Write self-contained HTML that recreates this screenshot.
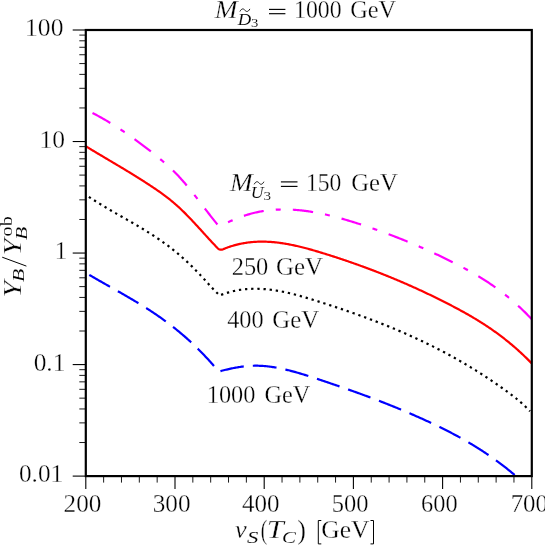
<!DOCTYPE html>
<html><head><meta charset="utf-8"><title>chart</title>
<style>html,body{margin:0;padding:0;background:#fff;}svg{display:block;}</style></head>
<body>
<svg width="545" height="545" viewBox="0 0 545 545">
<rect width="545" height="545" fill="#fff"/>
<g stroke="#000" stroke-width="0.9" fill="none">
<line x1="72.7" y1="30.00" x2="85.8" y2="30.00" stroke-width="1.1"/>
<line x1="79.3" y1="107.95" x2="85.8" y2="107.95"/>
<line x1="79.3" y1="88.31" x2="85.8" y2="88.31"/>
<line x1="79.3" y1="74.38" x2="85.8" y2="74.38"/>
<line x1="79.3" y1="63.57" x2="85.8" y2="63.57"/>
<line x1="79.3" y1="54.74" x2="85.8" y2="54.74"/>
<line x1="79.3" y1="47.28" x2="85.8" y2="47.28"/>
<line x1="79.3" y1="40.81" x2="85.8" y2="40.81"/>
<line x1="79.3" y1="35.10" x2="85.8" y2="35.10"/>
<line x1="72.7" y1="141.53" x2="85.8" y2="141.53" stroke-width="1.1"/>
<line x1="79.3" y1="219.48" x2="85.8" y2="219.48"/>
<line x1="79.3" y1="199.84" x2="85.8" y2="199.84"/>
<line x1="79.3" y1="185.91" x2="85.8" y2="185.91"/>
<line x1="79.3" y1="175.10" x2="85.8" y2="175.10"/>
<line x1="79.3" y1="166.27" x2="85.8" y2="166.27"/>
<line x1="79.3" y1="158.80" x2="85.8" y2="158.80"/>
<line x1="79.3" y1="152.33" x2="85.8" y2="152.33"/>
<line x1="79.3" y1="146.63" x2="85.8" y2="146.63"/>
<line x1="72.7" y1="253.05" x2="85.8" y2="253.05" stroke-width="1.1"/>
<line x1="79.3" y1="331.00" x2="85.8" y2="331.00"/>
<line x1="79.3" y1="311.36" x2="85.8" y2="311.36"/>
<line x1="79.3" y1="297.43" x2="85.8" y2="297.43"/>
<line x1="79.3" y1="286.62" x2="85.8" y2="286.62"/>
<line x1="79.3" y1="277.79" x2="85.8" y2="277.79"/>
<line x1="79.3" y1="270.33" x2="85.8" y2="270.33"/>
<line x1="79.3" y1="263.86" x2="85.8" y2="263.86"/>
<line x1="79.3" y1="258.15" x2="85.8" y2="258.15"/>
<line x1="72.7" y1="364.58" x2="85.8" y2="364.58" stroke-width="1.1"/>
<line x1="79.3" y1="442.53" x2="85.8" y2="442.53"/>
<line x1="79.3" y1="422.89" x2="85.8" y2="422.89"/>
<line x1="79.3" y1="408.96" x2="85.8" y2="408.96"/>
<line x1="79.3" y1="398.15" x2="85.8" y2="398.15"/>
<line x1="79.3" y1="389.32" x2="85.8" y2="389.32"/>
<line x1="79.3" y1="381.85" x2="85.8" y2="381.85"/>
<line x1="79.3" y1="375.38" x2="85.8" y2="375.38"/>
<line x1="79.3" y1="369.68" x2="85.8" y2="369.68"/>
<line x1="72.7" y1="476.10" x2="85.8" y2="476.10" stroke-width="1.1"/>
<line x1="85.80" y1="476.1" x2="85.80" y2="489" stroke-width="1.1"/>
<line x1="103.64" y1="476.1" x2="103.64" y2="482.6"/>
<line x1="121.48" y1="476.1" x2="121.48" y2="482.6"/>
<line x1="139.32" y1="476.1" x2="139.32" y2="482.6"/>
<line x1="157.16" y1="476.1" x2="157.16" y2="482.6"/>
<line x1="175.00" y1="476.1" x2="175.00" y2="489" stroke-width="1.1"/>
<line x1="192.84" y1="476.1" x2="192.84" y2="482.6"/>
<line x1="210.68" y1="476.1" x2="210.68" y2="482.6"/>
<line x1="228.52" y1="476.1" x2="228.52" y2="482.6"/>
<line x1="246.36" y1="476.1" x2="246.36" y2="482.6"/>
<line x1="264.20" y1="476.1" x2="264.20" y2="489" stroke-width="1.1"/>
<line x1="282.04" y1="476.1" x2="282.04" y2="482.6"/>
<line x1="299.88" y1="476.1" x2="299.88" y2="482.6"/>
<line x1="317.72" y1="476.1" x2="317.72" y2="482.6"/>
<line x1="335.56" y1="476.1" x2="335.56" y2="482.6"/>
<line x1="353.40" y1="476.1" x2="353.40" y2="489" stroke-width="1.1"/>
<line x1="371.24" y1="476.1" x2="371.24" y2="482.6"/>
<line x1="389.08" y1="476.1" x2="389.08" y2="482.6"/>
<line x1="406.92" y1="476.1" x2="406.92" y2="482.6"/>
<line x1="424.76" y1="476.1" x2="424.76" y2="482.6"/>
<line x1="442.60" y1="476.1" x2="442.60" y2="489" stroke-width="1.1"/>
<line x1="460.44" y1="476.1" x2="460.44" y2="482.6"/>
<line x1="478.28" y1="476.1" x2="478.28" y2="482.6"/>
<line x1="496.12" y1="476.1" x2="496.12" y2="482.6"/>
<line x1="513.96" y1="476.1" x2="513.96" y2="482.6"/>
<line x1="531.80" y1="476.1" x2="531.80" y2="489" stroke-width="1.1"/>
</g>
<clipPath id="c"><rect x="85.8" y="30.0" width="445.99999999999994" height="446.1"/></clipPath>
<g fill="none" stroke-width="2.2" clip-path="url(#c)" stroke-linejoin="round">
<path d="M92.50,113.00 L93.50,113.51 L94.50,114.02 L95.50,114.54 L96.50,115.07 L97.50,115.60 L98.50,116.14 L99.50,116.69 L100.50,117.24 L101.50,117.80 L102.50,118.36 L103.50,118.93 L104.50,119.51 L105.50,120.09 L106.50,120.67 L107.50,121.27 L108.50,121.86 L109.50,122.47 L110.50,123.08 L111.50,123.69 L112.50,124.31 L113.50,124.93 L114.50,125.56 L115.50,126.20 L116.50,126.84 L117.50,127.48 L118.50,128.13 L119.50,128.79 L120.50,129.45 L121.50,130.11 L122.50,130.78 L123.50,131.46 L124.50,132.14 L125.50,132.82 L126.50,133.51 L127.50,134.20 L128.50,134.90 L129.50,135.60 L130.50,136.31 L131.50,137.02 L132.50,137.73 L133.50,138.45 L134.50,139.17 L135.50,139.90 L136.50,140.63 L137.50,141.36 L138.50,142.10 L139.50,142.84 L140.50,143.59 L141.50,144.34 L142.50,145.09 L143.50,145.85 L144.50,146.61 L145.50,147.37 L146.50,148.14 L147.50,148.91 L148.50,149.68 L149.50,150.46 L150.50,151.24 L151.50,152.02 L152.50,152.81 L153.50,153.60 L154.50,154.39 L155.50,155.19 L156.50,156.00 L157.50,156.81 L158.50,157.62 L159.50,158.45 L160.50,159.28 L161.50,160.12 L162.50,160.97 L163.50,161.82 L164.50,162.69 L165.50,163.57 L166.50,164.45 L167.50,165.35 L168.50,166.26 L169.50,167.18 L170.50,168.12 L171.50,169.07 L172.50,170.03 L173.50,171.00 L174.50,171.99 L175.50,173.00 L176.50,174.02 L177.50,175.06 L178.50,176.11 L179.50,177.19 L180.50,178.28 L181.50,179.39 L182.50,180.51 L183.50,181.65 L184.50,182.81 L185.50,183.98 L186.50,185.17 L187.50,186.37 L188.50,187.58 L189.50,188.80 L190.50,190.04 L191.50,191.28 L192.50,192.53 L193.50,193.80 L194.50,195.07 L195.50,196.34 L196.50,197.63 L197.50,198.92 L198.50,200.21 L199.50,201.51 L200.50,202.81 L201.50,204.11 L202.50,205.41 L203.50,206.72 L204.50,208.02 L205.50,209.33 L206.50,210.63 L207.50,211.93 L208.50,213.23 L209.50,214.53 L210.50,215.82 L211.50,217.10 L212.50,218.38 L213.50,219.65 L214.50,220.91 L215.50,222.17 L216.50,223.42 L217.50,224.65 L218.50,225.88 L218.60,226.00 L219.60,225.61 L220.60,225.21 L221.60,224.81 L222.60,224.40 L223.60,223.99 L224.60,223.57 L225.60,223.16 L226.60,222.74 L227.60,222.31 L228.60,221.89 L229.60,221.47 L230.60,221.05 L231.60,220.63 L232.60,220.22 L233.60,219.80 L234.60,219.39 L235.60,218.99 L236.60,218.58 L237.60,218.19 L238.60,217.80 L239.60,217.41 L240.60,217.04 L241.60,216.67 L242.60,216.31 L243.60,215.96 L244.60,215.62 L245.60,215.29 L246.60,214.97 L247.60,214.66 L248.60,214.36 L249.60,214.07 L250.60,213.79 L251.60,213.52 L252.60,213.26 L253.60,213.00 L254.60,212.76 L255.60,212.53 L256.60,212.31 L257.60,212.09 L258.60,211.89 L259.60,211.69 L260.60,211.51 L261.60,211.33 L262.60,211.16 L263.60,211.00 L264.60,210.85 L265.60,210.70 L266.60,210.57 L267.60,210.44 L268.60,210.32 L269.60,210.21 L270.60,210.11 L271.60,210.02 L272.60,209.93 L273.60,209.85 L274.60,209.78 L275.60,209.72 L276.60,209.66 L277.60,209.61 L278.60,209.57 L279.60,209.53 L280.60,209.51 L281.60,209.49 L282.60,209.47 L283.60,209.47 L284.60,209.47 L285.60,209.47 L286.60,209.49 L287.60,209.51 L288.60,209.53 L289.60,209.57 L290.60,209.61 L291.60,209.65 L292.60,209.70 L293.60,209.76 L294.60,209.83 L295.60,209.90 L296.60,209.98 L297.60,210.06 L298.60,210.15 L299.60,210.24 L300.60,210.34 L301.60,210.45 L302.60,210.56 L303.60,210.68 L304.60,210.80 L305.60,210.93 L306.60,211.06 L307.60,211.20 L308.60,211.35 L309.60,211.49 L310.60,211.65 L311.60,211.81 L312.60,211.97 L313.60,212.14 L314.60,212.32 L315.60,212.49 L316.60,212.68 L317.60,212.87 L318.60,213.06 L319.60,213.26 L320.60,213.46 L321.60,213.66 L322.60,213.88 L323.60,214.09 L324.60,214.31 L325.60,214.53 L326.60,214.76 L327.60,214.99 L328.60,215.22 L329.60,215.46 L330.60,215.71 L331.60,215.95 L332.60,216.20 L333.60,216.45 L334.60,216.71 L335.60,216.97 L336.60,217.24 L337.60,217.50 L338.60,217.77 L339.60,218.05 L340.60,218.32 L341.60,218.60 L342.60,218.88 L343.60,219.17 L344.60,219.46 L345.60,219.75 L346.60,220.04 L347.60,220.34 L348.60,220.64 L349.60,220.94 L350.60,221.24 L351.60,221.55 L352.60,221.86 L353.60,222.17 L354.60,222.48 L355.60,222.80 L356.60,223.11 L357.60,223.43 L358.60,223.75 L359.60,224.08 L360.60,224.40 L361.60,224.73 L362.60,225.06 L363.60,225.39 L364.60,225.72 L365.60,226.05 L366.60,226.38 L367.60,226.72 L368.60,227.06 L369.60,227.40 L370.60,227.74 L371.60,228.08 L372.60,228.43 L373.60,228.78 L374.60,229.13 L375.60,229.48 L376.60,229.83 L377.60,230.18 L378.60,230.54 L379.60,230.89 L380.60,231.25 L381.60,231.61 L382.60,231.98 L383.60,232.34 L384.60,232.71 L385.60,233.08 L386.60,233.45 L387.60,233.82 L388.60,234.19 L389.60,234.57 L390.60,234.94 L391.60,235.32 L392.60,235.70 L393.60,236.09 L394.60,236.47 L395.60,236.86 L396.60,237.25 L397.60,237.64 L398.60,238.03 L399.60,238.42 L400.60,238.82 L401.60,239.22 L402.60,239.62 L403.60,240.02 L404.60,240.42 L405.60,240.83 L406.60,241.24 L407.60,241.65 L408.60,242.06 L409.60,242.47 L410.60,242.88 L411.60,243.30 L412.60,243.72 L413.60,244.14 L414.60,244.57 L415.60,244.99 L416.60,245.42 L417.60,245.85 L418.60,246.28 L419.60,246.71 L420.60,247.15 L421.60,247.58 L422.60,248.02 L423.60,248.46 L424.60,248.91 L425.60,249.35 L426.60,249.80 L427.60,250.25 L428.60,250.70 L429.60,251.15 L430.60,251.61 L431.60,252.06 L432.60,252.52 L433.60,252.98 L434.60,253.45 L435.60,253.91 L436.60,254.38 L437.60,254.85 L438.60,255.32 L439.60,255.80 L440.60,256.27 L441.60,256.75 L442.60,257.23 L443.60,257.72 L444.60,258.20 L445.60,258.69 L446.60,259.18 L447.60,259.67 L448.60,260.16 L449.60,260.66 L450.60,261.15 L451.60,261.65 L452.60,262.16 L453.60,262.66 L454.60,263.17 L455.60,263.68 L456.60,264.19 L457.60,264.70 L458.60,265.22 L459.60,265.74 L460.60,266.26 L461.60,266.79 L462.60,267.32 L463.60,267.85 L464.60,268.39 L465.60,268.93 L466.60,269.48 L467.60,270.03 L468.60,270.58 L469.60,271.14 L470.60,271.70 L471.60,272.27 L472.60,272.84 L473.60,273.41 L474.60,273.99 L475.60,274.58 L476.60,275.17 L477.60,275.76 L478.60,276.36 L479.60,276.97 L480.60,277.58 L481.60,278.20 L482.60,278.82 L483.60,279.45 L484.60,280.09 L485.60,280.73 L486.60,281.38 L487.60,282.03 L488.60,282.69 L489.60,283.36 L490.60,284.04 L491.60,284.72 L492.60,285.41 L493.60,286.10 L494.60,286.81 L495.60,287.52 L496.60,288.23 L497.60,288.96 L498.60,289.69 L499.60,290.44 L500.60,291.18 L501.60,291.94 L502.60,292.71 L503.60,293.48 L504.60,294.27 L505.60,295.06 L506.60,295.86 L507.60,296.67 L508.60,297.49 L509.60,298.31 L510.60,299.15 L511.60,300.00 L512.60,300.85 L513.60,301.72 L514.60,302.59 L515.60,303.48 L516.60,304.37 L517.60,305.28 L518.60,306.19 L519.60,307.12 L520.60,308.05 L521.60,309.00 L522.60,309.96 L523.60,310.93 L524.60,311.91 L525.60,312.90 L526.60,313.90 L527.60,314.91 L528.60,315.94 L529.60,316.97 L530.60,318.02 L531.60,319.08 L531.80,319.29" stroke="#ff00ff" stroke-dasharray="20.4 12.1 5 12.1"/>
<path d="M85.70,146.20 L86.70,146.81 L87.70,147.42 L88.70,148.03 L89.70,148.63 L90.70,149.24 L91.70,149.84 L92.70,150.45 L93.70,151.05 L94.70,151.65 L95.70,152.25 L96.70,152.84 L97.70,153.44 L98.70,154.04 L99.70,154.63 L100.70,155.23 L101.70,155.82 L102.70,156.42 L103.70,157.01 L104.70,157.60 L105.70,158.20 L106.70,158.79 L107.70,159.38 L108.70,159.97 L109.70,160.57 L110.70,161.16 L111.70,161.75 L112.70,162.35 L113.70,162.94 L114.70,163.53 L115.70,164.13 L116.70,164.72 L117.70,165.32 L118.70,165.91 L119.70,166.51 L120.70,167.11 L121.70,167.71 L122.70,168.31 L123.70,168.91 L124.70,169.51 L125.70,170.11 L126.70,170.72 L127.70,171.32 L128.70,171.93 L129.70,172.54 L130.70,173.15 L131.70,173.76 L132.70,174.38 L133.70,174.99 L134.70,175.61 L135.70,176.23 L136.70,176.85 L137.70,177.48 L138.70,178.10 L139.70,178.73 L140.70,179.36 L141.70,180.00 L142.70,180.63 L143.70,181.27 L144.70,181.91 L145.70,182.56 L146.70,183.20 L147.70,183.85 L148.70,184.51 L149.70,185.16 L150.70,185.82 L151.70,186.48 L152.70,187.15 L153.70,187.82 L154.70,188.50 L155.70,189.18 L156.70,189.86 L157.70,190.55 L158.70,191.25 L159.70,191.96 L160.70,192.67 L161.70,193.39 L162.70,194.11 L163.70,194.85 L164.70,195.59 L165.70,196.35 L166.70,197.11 L167.70,197.88 L168.70,198.66 L169.70,199.46 L170.70,200.26 L171.70,201.08 L172.70,201.90 L173.70,202.74 L174.70,203.60 L175.70,204.46 L176.70,205.34 L177.70,206.23 L178.70,207.14 L179.70,208.06 L180.70,209.00 L181.70,209.95 L182.70,210.92 L183.70,211.89 L184.70,212.88 L185.70,213.88 L186.70,214.90 L187.70,215.92 L188.70,216.95 L189.70,217.99 L190.70,219.04 L191.70,220.10 L192.70,221.16 L193.70,222.24 L194.70,223.31 L195.70,224.39 L196.70,225.48 L197.70,226.57 L198.70,227.67 L199.70,228.76 L200.70,229.86 L201.70,230.97 L202.70,232.07 L203.70,233.17 L204.70,234.27 L205.70,235.37 L206.70,236.47 L207.70,237.57 L208.70,238.66 L209.70,239.75 L210.70,240.83 L211.70,241.91 L212.70,242.99 L213.70,244.06 L214.70,245.12 L215.70,246.18 L216.70,247.22 L217.55,248.11 L218.00,248.53 L218.47,248.89 L218.94,249.18 L219.43,249.41 L219.93,249.58 L220.45,249.67 L220.97,249.71 L221.51,249.68 L222.06,249.58 L222.62,249.42 L223.20,249.20 L224.00,248.87 L225.00,248.46 L226.00,248.08 L227.00,247.70 L228.00,247.34 L229.00,246.99 L230.00,246.65 L231.00,246.32 L232.00,246.01 L233.00,245.70 L234.00,245.41 L235.00,245.14 L236.00,244.87 L237.00,244.61 L238.00,244.37 L239.00,244.14 L240.00,243.92 L241.00,243.70 L242.00,243.51 L243.00,243.32 L244.00,243.14 L245.00,242.97 L246.00,242.81 L247.00,242.67 L248.00,242.53 L249.00,242.41 L250.00,242.29 L251.00,242.18 L252.00,242.09 L253.00,242.00 L254.00,241.92 L255.00,241.85 L256.00,241.80 L257.00,241.75 L258.00,241.71 L259.00,241.68 L260.00,241.65 L261.00,241.64 L262.00,241.64 L263.00,241.64 L264.00,241.65 L265.00,241.67 L266.00,241.70 L267.00,241.74 L268.00,241.78 L269.00,241.84 L270.00,241.90 L271.00,241.97 L272.00,242.04 L273.00,242.12 L274.00,242.21 L275.00,242.31 L276.00,242.42 L277.00,242.53 L278.00,242.65 L279.00,242.77 L280.00,242.90 L281.00,243.04 L282.00,243.19 L283.00,243.34 L284.00,243.49 L285.00,243.66 L286.00,243.83 L287.00,244.00 L288.00,244.18 L289.00,244.37 L290.00,244.56 L291.00,244.75 L292.00,244.96 L293.00,245.16 L294.00,245.38 L295.00,245.59 L296.00,245.81 L297.00,246.04 L298.00,246.27 L299.00,246.51 L300.00,246.75 L301.00,246.99 L302.00,247.24 L303.00,247.49 L304.00,247.75 L305.00,248.01 L306.00,248.27 L307.00,248.54 L308.00,248.81 L309.00,249.08 L310.00,249.36 L311.00,249.64 L312.00,249.92 L313.00,250.20 L314.00,250.49 L315.00,250.78 L316.00,251.08 L317.00,251.37 L318.00,251.67 L319.00,251.97 L320.00,252.27 L321.00,252.58 L322.00,252.88 L323.00,253.19 L324.00,253.50 L325.00,253.81 L326.00,254.12 L327.00,254.43 L328.00,254.75 L329.00,255.06 L330.00,255.38 L331.00,255.70 L332.00,256.02 L333.00,256.34 L334.00,256.66 L335.00,256.99 L336.00,257.31 L337.00,257.64 L338.00,257.97 L339.00,258.30 L340.00,258.63 L341.00,258.96 L342.00,259.30 L343.00,259.63 L344.00,259.97 L345.00,260.31 L346.00,260.65 L347.00,260.99 L348.00,261.33 L349.00,261.67 L350.00,262.02 L351.00,262.37 L352.00,262.72 L353.00,263.07 L354.00,263.42 L355.00,263.77 L356.00,264.12 L357.00,264.48 L358.00,264.84 L359.00,265.20 L360.00,265.56 L361.00,265.92 L362.00,266.28 L363.00,266.65 L364.00,267.01 L365.00,267.38 L366.00,267.75 L367.00,268.12 L368.00,268.50 L369.00,268.87 L370.00,269.25 L371.00,269.62 L372.00,270.00 L373.00,270.38 L374.00,270.77 L375.00,271.15 L376.00,271.54 L377.00,271.92 L378.00,272.31 L379.00,272.70 L380.00,273.09 L381.00,273.49 L382.00,273.88 L383.00,274.28 L384.00,274.68 L385.00,275.08 L386.00,275.48 L387.00,275.88 L388.00,276.29 L389.00,276.69 L390.00,277.10 L391.00,277.51 L392.00,277.92 L393.00,278.34 L394.00,278.75 L395.00,279.17 L396.00,279.59 L397.00,280.01 L398.00,280.43 L399.00,280.85 L400.00,281.28 L401.00,281.70 L402.00,282.13 L403.00,282.56 L404.00,283.00 L405.00,283.43 L406.00,283.86 L407.00,284.30 L408.00,284.74 L409.00,285.18 L410.00,285.62 L411.00,286.07 L412.00,286.52 L413.00,286.96 L414.00,287.41 L415.00,287.86 L416.00,288.32 L417.00,288.77 L418.00,289.23 L419.00,289.69 L420.00,290.15 L421.00,290.61 L422.00,291.08 L423.00,291.54 L424.00,292.01 L425.00,292.48 L426.00,292.95 L427.00,293.42 L428.00,293.90 L429.00,294.38 L430.00,294.85 L431.00,295.34 L432.00,295.82 L433.00,296.30 L434.00,296.79 L435.00,297.28 L436.00,297.77 L437.00,298.26 L438.00,298.75 L439.00,299.25 L440.00,299.75 L441.00,300.25 L442.00,300.75 L443.00,301.25 L444.00,301.76 L445.00,302.27 L446.00,302.78 L447.00,303.29 L448.00,303.80 L449.00,304.32 L450.00,304.83 L451.00,305.35 L452.00,305.87 L453.00,306.40 L454.00,306.92 L455.00,307.45 L456.00,307.98 L457.00,308.51 L458.00,309.05 L459.00,309.59 L460.00,310.13 L461.00,310.68 L462.00,311.22 L463.00,311.77 L464.00,312.33 L465.00,312.89 L466.00,313.45 L467.00,314.01 L468.00,314.58 L469.00,315.16 L470.00,315.73 L471.00,316.31 L472.00,316.90 L473.00,317.49 L474.00,318.08 L475.00,318.68 L476.00,319.28 L477.00,319.89 L478.00,320.50 L479.00,321.12 L480.00,321.74 L481.00,322.37 L482.00,323.00 L483.00,323.64 L484.00,324.28 L485.00,324.93 L486.00,325.59 L487.00,326.25 L488.00,326.92 L489.00,327.59 L490.00,328.27 L491.00,328.95 L492.00,329.64 L493.00,330.34 L494.00,331.05 L495.00,331.76 L496.00,332.47 L497.00,333.20 L498.00,333.93 L499.00,334.67 L500.00,335.41 L501.00,336.17 L502.00,336.93 L503.00,337.69 L504.00,338.47 L505.00,339.25 L506.00,340.04 L507.00,340.84 L508.00,341.65 L509.00,342.46 L510.00,343.29 L511.00,344.12 L512.00,344.96 L513.00,345.81 L514.00,346.66 L515.00,347.53 L516.00,348.40 L517.00,349.29 L518.00,350.18 L519.00,351.08 L520.00,351.99 L521.00,352.91 L522.00,353.84 L523.00,354.78 L524.00,355.73 L525.00,356.69 L526.00,357.66 L527.00,358.64 L528.00,359.63 L529.00,360.63 L530.00,361.64 L531.00,362.66 L531.80,363.48" stroke="#ff0000"/>
<path d="M88.90,196.89 L89.90,197.56 L90.90,198.22 L91.90,198.87 L92.90,199.52 L93.90,200.16 L94.90,200.79 L95.90,201.43 L96.90,202.05 L97.90,202.68 L98.90,203.30 L99.90,203.91 L100.90,204.52 L101.90,205.13 L102.90,205.73 L103.90,206.33 L104.90,206.93 L105.90,207.53 L106.90,208.12 L107.90,208.71 L108.90,209.29 L109.90,209.88 L110.90,210.46 L111.90,211.04 L112.90,211.62 L113.90,212.19 L114.90,212.77 L115.90,213.34 L116.90,213.91 L117.90,214.48 L118.90,215.05 L119.90,215.62 L120.90,216.19 L121.90,216.76 L122.90,217.33 L123.90,217.90 L124.90,218.47 L125.90,219.04 L126.90,219.61 L127.90,220.19 L128.90,220.76 L129.90,221.33 L130.90,221.91 L131.90,222.48 L132.90,223.06 L133.90,223.64 L134.90,224.23 L135.90,224.81 L136.90,225.40 L137.90,225.99 L138.90,226.58 L139.90,227.17 L140.90,227.77 L141.90,228.37 L142.90,228.98 L143.90,229.59 L144.90,230.20 L145.90,230.81 L146.90,231.43 L147.90,232.06 L148.90,232.69 L149.90,233.32 L150.90,233.96 L151.90,234.60 L152.90,235.25 L153.90,235.91 L154.90,236.57 L155.90,237.23 L156.90,237.90 L157.90,238.58 L158.90,239.26 L159.90,239.95 L160.90,240.65 L161.90,241.35 L162.90,242.06 L163.90,242.78 L164.90,243.50 L165.90,244.23 L166.90,244.97 L167.90,245.72 L168.90,246.48 L169.90,247.24 L170.90,248.01 L171.90,248.79 L172.90,249.58 L173.90,250.38 L174.90,251.18 L175.90,252.00 L176.90,252.82 L177.90,253.66 L178.90,254.50 L179.90,255.36 L180.90,256.22 L181.90,257.09 L182.90,257.98 L183.90,258.87 L184.90,259.78 L185.90,260.70 L186.90,261.62 L187.90,262.56 L188.90,263.51 L189.90,264.46 L190.90,265.43 L191.90,266.41 L192.90,267.40 L193.90,268.39 L194.90,269.40 L195.90,270.42 L196.90,271.44 L197.90,272.48 L198.90,273.52 L199.90,274.58 L200.90,275.64 L201.90,276.71 L202.90,277.79 L203.90,278.88 L204.90,279.98 L205.90,281.09 L206.90,282.20 L207.90,283.31 L208.90,284.42 L209.90,285.53 L210.90,286.62 L211.90,287.70 L212.90,288.77 L213.90,289.81 L214.90,290.84 L215.90,291.83 L216.90,292.80 L217.90,293.73 L218.90,294.63 L219.80,295.41 L220.80,295.02 L221.80,294.64 L222.80,294.27 L223.80,293.91 L224.80,293.56 L225.80,293.23 L226.80,292.91 L227.80,292.61 L228.80,292.32 L229.80,292.04 L230.80,291.77 L231.80,291.51 L232.80,291.27 L233.80,291.04 L234.80,290.82 L235.80,290.61 L236.80,290.41 L237.80,290.23 L238.80,290.06 L239.80,289.89 L240.80,289.74 L241.80,289.60 L242.80,289.47 L243.80,289.36 L244.80,289.25 L245.80,289.15 L246.80,289.06 L247.80,288.99 L248.80,288.92 L249.80,288.86 L250.80,288.82 L251.80,288.78 L252.80,288.75 L253.80,288.74 L254.80,288.73 L255.80,288.73 L256.80,288.74 L257.80,288.76 L258.80,288.78 L259.80,288.82 L260.80,288.86 L261.80,288.92 L262.80,288.98 L263.80,289.05 L264.80,289.12 L265.80,289.21 L266.80,289.30 L267.80,289.40 L268.80,289.51 L269.80,289.63 L270.80,289.75 L271.80,289.88 L272.80,290.02 L273.80,290.16 L274.80,290.31 L275.80,290.47 L276.80,290.63 L277.80,290.80 L278.80,290.98 L279.80,291.16 L280.80,291.35 L281.80,291.54 L282.80,291.74 L283.80,291.94 L284.80,292.15 L285.80,292.37 L286.80,292.59 L287.80,292.82 L288.80,293.05 L289.80,293.28 L290.80,293.52 L291.80,293.77 L292.80,294.02 L293.80,294.27 L294.80,294.53 L295.80,294.79 L296.80,295.06 L297.80,295.33 L298.80,295.60 L299.80,295.87 L300.80,296.15 L301.80,296.44 L302.80,296.72 L303.80,297.01 L304.80,297.30 L305.80,297.60 L306.80,297.90 L307.80,298.20 L308.80,298.50 L309.80,298.80 L310.80,299.11 L311.80,299.41 L312.80,299.72 L313.80,300.04 L314.80,300.35 L315.80,300.66 L316.80,300.98 L317.80,301.30 L318.80,301.61 L319.80,301.93 L320.80,302.25 L321.80,302.57 L322.80,302.89 L323.80,303.21 L324.80,303.54 L325.80,303.86 L326.80,304.19 L327.80,304.51 L328.80,304.84 L329.80,305.16 L330.80,305.49 L331.80,305.82 L332.80,306.15 L333.80,306.48 L334.80,306.81 L335.80,307.14 L336.80,307.48 L337.80,307.81 L338.80,308.15 L339.80,308.48 L340.80,308.82 L341.80,309.16 L342.80,309.50 L343.80,309.84 L344.80,310.18 L345.80,310.52 L346.80,310.87 L347.80,311.21 L348.80,311.56 L349.80,311.90 L350.80,312.25 L351.80,312.60 L352.80,312.95 L353.80,313.31 L354.80,313.66 L355.80,314.02 L356.80,314.37 L357.80,314.73 L358.80,315.09 L359.80,315.45 L360.80,315.81 L361.80,316.17 L362.80,316.54 L363.80,316.90 L364.80,317.27 L365.80,317.64 L366.80,318.01 L367.80,318.38 L368.80,318.75 L369.80,319.13 L370.80,319.50 L371.80,319.88 L372.80,320.26 L373.80,320.64 L374.80,321.02 L375.80,321.40 L376.80,321.79 L377.80,322.18 L378.80,322.56 L379.80,322.95 L380.80,323.35 L381.80,323.74 L382.80,324.13 L383.80,324.53 L384.80,324.93 L385.80,325.33 L386.80,325.73 L387.80,326.14 L388.80,326.54 L389.80,326.95 L390.80,327.36 L391.80,327.77 L392.80,328.18 L393.80,328.60 L394.80,329.01 L395.80,329.43 L396.80,329.85 L397.80,330.27 L398.80,330.70 L399.80,331.12 L400.80,331.55 L401.80,331.98 L402.80,332.41 L403.80,332.85 L404.80,333.29 L405.80,333.72 L406.80,334.16 L407.80,334.61 L408.80,335.05 L409.80,335.50 L410.80,335.95 L411.80,336.40 L412.80,336.85 L413.80,337.31 L414.80,337.76 L415.80,338.22 L416.80,338.68 L417.80,339.15 L418.80,339.61 L419.80,340.08 L420.80,340.55 L421.80,341.03 L422.80,341.50 L423.80,341.98 L424.80,342.46 L425.80,342.94 L426.80,343.43 L427.80,343.92 L428.80,344.41 L429.80,344.90 L430.80,345.39 L431.80,345.89 L432.80,346.39 L433.80,346.89 L434.80,347.39 L435.80,347.90 L436.80,348.41 L437.80,348.92 L438.80,349.44 L439.80,349.95 L440.80,350.47 L441.80,351.00 L442.80,351.52 L443.80,352.05 L444.80,352.58 L445.80,353.11 L446.80,353.65 L447.80,354.19 L448.80,354.73 L449.80,355.27 L450.80,355.82 L451.80,356.37 L452.80,356.92 L453.80,357.48 L454.80,358.03 L455.80,358.59 L456.80,359.16 L457.80,359.72 L458.80,360.29 L459.80,360.87 L460.80,361.44 L461.80,362.02 L462.80,362.60 L463.80,363.19 L464.80,363.77 L465.80,364.36 L466.80,364.96 L467.80,365.55 L468.80,366.15 L469.80,366.75 L470.80,367.36 L471.80,367.97 L472.80,368.58 L473.80,369.19 L474.80,369.81 L475.80,370.43 L476.80,371.06 L477.80,371.69 L478.80,372.32 L479.80,372.95 L480.80,373.59 L481.80,374.23 L482.80,374.87 L483.80,375.52 L484.80,376.17 L485.80,376.82 L486.80,377.48 L487.80,378.14 L488.80,378.81 L489.80,379.47 L490.80,380.14 L491.80,380.82 L492.80,381.50 L493.80,382.18 L494.80,382.86 L495.80,383.55 L496.80,384.24 L497.80,384.94 L498.80,385.64 L499.80,386.34 L500.80,387.05 L501.80,387.76 L502.80,388.47 L503.80,389.19 L504.80,389.91 L505.80,390.63 L506.80,391.36 L507.80,392.09 L508.80,392.83 L509.80,393.57 L510.80,394.32 L511.80,395.07 L512.80,395.84 L513.80,396.61 L514.80,397.39 L515.80,398.19 L516.80,398.99 L517.80,399.81 L518.80,400.64 L519.80,401.49 L520.80,402.35 L521.80,403.23 L522.80,404.13 L523.80,405.05 L524.80,405.98 L525.80,406.94 L526.80,407.92 L527.80,408.92 L528.80,409.94 L529.80,410.99 L530.00,411.20" stroke="#000" stroke-dasharray="2.3 3.86"/>
<path d="M89.30,274.90 L90.30,275.49 L91.30,276.07 L92.30,276.65 L93.30,277.24 L94.30,277.81 L95.30,278.39 L96.30,278.97 L97.30,279.54 L98.30,280.11 L99.30,280.69 L100.30,281.26 L101.30,281.83 L102.30,282.39 L103.30,282.96 L104.30,283.53 L105.30,284.09 L106.30,284.66 L107.30,285.22 L108.30,285.79 L109.30,286.35 L110.30,286.92 L111.30,287.48 L112.30,288.05 L113.30,288.61 L114.30,289.18 L115.30,289.74 L116.30,290.31 L117.30,290.88 L118.30,291.44 L119.30,292.01 L120.30,292.58 L121.30,293.15 L122.30,293.73 L123.30,294.30 L124.30,294.87 L125.30,295.45 L126.30,296.03 L127.30,296.61 L128.30,297.19 L129.30,297.77 L130.30,298.36 L131.30,298.95 L132.30,299.54 L133.30,300.13 L134.30,300.73 L135.30,301.33 L136.30,301.93 L137.30,302.53 L138.30,303.14 L139.30,303.75 L140.30,304.36 L141.30,304.98 L142.30,305.60 L143.30,306.22 L144.30,306.85 L145.30,307.48 L146.30,308.11 L147.30,308.75 L148.30,309.39 L149.30,310.04 L150.30,310.69 L151.30,311.35 L152.30,312.01 L153.30,312.67 L154.30,313.34 L155.30,314.02 L156.30,314.70 L157.30,315.38 L158.30,316.07 L159.30,316.77 L160.30,317.47 L161.30,318.17 L162.30,318.88 L163.30,319.60 L164.30,320.32 L165.30,321.05 L166.30,321.79 L167.30,322.53 L168.30,323.28 L169.30,324.03 L170.30,324.79 L171.30,325.56 L172.30,326.33 L173.30,327.11 L174.30,327.90 L175.30,328.70 L176.30,329.50 L177.30,330.31 L178.30,331.13 L179.30,331.95 L180.30,332.78 L181.30,333.62 L182.30,334.47 L183.30,335.32 L184.30,336.19 L185.30,337.06 L186.30,337.94 L187.30,338.83 L188.30,339.72 L189.30,340.63 L190.30,341.54 L191.30,342.47 L192.30,343.40 L193.30,344.34 L194.30,345.29 L195.30,346.25 L196.30,347.22 L197.30,348.20 L198.30,349.18 L199.30,350.18 L200.30,351.19 L201.30,352.21 L202.30,353.23 L203.30,354.27 L204.30,355.32 L205.30,356.38 L206.30,357.44 L207.30,358.52 L208.30,359.61 L209.30,360.71 L210.30,361.83 L211.30,362.95 L212.30,364.08 L213.30,365.23 L214.30,366.38 L215.30,367.55 L216.30,368.73 L217.30,369.92 L218.30,371.12 L218.70,371.61 L219.70,371.34 L220.70,371.07 L221.70,370.81 L222.70,370.55 L223.70,370.29 L224.70,370.04 L225.70,369.80 L226.70,369.56 L227.70,369.32 L228.70,369.09 L229.70,368.87 L230.70,368.65 L231.70,368.44 L232.70,368.23 L233.70,368.03 L234.70,367.84 L235.70,367.66 L236.70,367.48 L237.70,367.31 L238.70,367.14 L239.70,366.99 L240.70,366.84 L241.70,366.70 L242.70,366.57 L243.70,366.45 L244.70,366.33 L245.70,366.23 L246.70,366.13 L247.70,366.04 L248.70,365.96 L249.70,365.90 L250.70,365.84 L251.70,365.79 L252.70,365.75 L253.70,365.73 L254.70,365.71 L255.70,365.70 L256.70,365.71 L257.70,365.72 L258.70,365.75 L259.70,365.78 L260.70,365.82 L261.70,365.88 L262.70,365.94 L263.70,366.01 L264.70,366.09 L265.70,366.18 L266.70,366.28 L267.70,366.38 L268.70,366.50 L269.70,366.62 L270.70,366.75 L271.70,366.89 L272.70,367.04 L273.70,367.19 L274.70,367.35 L275.70,367.52 L276.70,367.70 L277.70,367.88 L278.70,368.07 L279.70,368.27 L280.70,368.47 L281.70,368.68 L282.70,368.89 L283.70,369.11 L284.70,369.34 L285.70,369.57 L286.70,369.81 L287.70,370.06 L288.70,370.30 L289.70,370.56 L290.70,370.82 L291.70,371.08 L292.70,371.35 L293.70,371.62 L294.70,371.90 L295.70,372.18 L296.70,372.46 L297.70,372.75 L298.70,373.04 L299.70,373.34 L300.70,373.64 L301.70,373.94 L302.70,374.24 L303.70,374.55 L304.70,374.86 L305.70,375.17 L306.70,375.49 L307.70,375.81 L308.70,376.13 L309.70,376.45 L310.70,376.77 L311.70,377.10 L312.70,377.42 L313.70,377.75 L314.70,378.08 L315.70,378.41 L316.70,378.74 L317.70,379.07 L318.70,379.40 L319.70,379.73 L320.70,380.06 L321.70,380.40 L322.70,380.73 L323.70,381.07 L324.70,381.40 L325.70,381.74 L326.70,382.07 L327.70,382.41 L328.70,382.74 L329.70,383.08 L330.70,383.42 L331.70,383.76 L332.70,384.10 L333.70,384.44 L334.70,384.78 L335.70,385.12 L336.70,385.47 L337.70,385.81 L338.70,386.15 L339.70,386.50 L340.70,386.85 L341.70,387.19 L342.70,387.54 L343.70,387.89 L344.70,388.24 L345.70,388.59 L346.70,388.94 L347.70,389.29 L348.70,389.64 L349.70,389.99 L350.70,390.35 L351.70,390.70 L352.70,391.06 L353.70,391.42 L354.70,391.78 L355.70,392.14 L356.70,392.50 L357.70,392.86 L358.70,393.22 L359.70,393.58 L360.70,393.95 L361.70,394.31 L362.70,394.68 L363.70,395.05 L364.70,395.41 L365.70,395.78 L366.70,396.15 L367.70,396.53 L368.70,396.90 L369.70,397.27 L370.70,397.65 L371.70,398.02 L372.70,398.40 L373.70,398.78 L374.70,399.16 L375.70,399.54 L376.70,399.92 L377.70,400.31 L378.70,400.69 L379.70,401.08 L380.70,401.47 L381.70,401.86 L382.70,402.25 L383.70,402.64 L384.70,403.03 L385.70,403.43 L386.70,403.82 L387.70,404.22 L388.70,404.62 L389.70,405.02 L390.70,405.42 L391.70,405.82 L392.70,406.22 L393.70,406.63 L394.70,407.04 L395.70,407.44 L396.70,407.85 L397.70,408.27 L398.70,408.68 L399.70,409.09 L400.70,409.51 L401.70,409.93 L402.70,410.35 L403.70,410.77 L404.70,411.19 L405.70,411.61 L406.70,412.04 L407.70,412.47 L408.70,412.89 L409.70,413.33 L410.70,413.76 L411.70,414.19 L412.70,414.63 L413.70,415.06 L414.70,415.50 L415.70,415.94 L416.70,416.39 L417.70,416.83 L418.70,417.28 L419.70,417.72 L420.70,418.17 L421.70,418.62 L422.70,419.08 L423.70,419.53 L424.70,419.99 L425.70,420.45 L426.70,420.91 L427.70,421.37 L428.70,421.83 L429.70,422.30 L430.70,422.77 L431.70,423.24 L432.70,423.71 L433.70,424.18 L434.70,424.66 L435.70,425.14 L436.70,425.62 L437.70,426.10 L438.70,426.58 L439.70,427.07 L440.70,427.56 L441.70,428.05 L442.70,428.55 L443.70,429.04 L444.70,429.54 L445.70,430.05 L446.70,430.55 L447.70,431.06 L448.70,431.57 L449.70,432.08 L450.70,432.60 L451.70,433.12 L452.70,433.65 L453.70,434.17 L454.70,434.70 L455.70,435.24 L456.70,435.77 L457.70,436.31 L458.70,436.86 L459.70,437.40 L460.70,437.96 L461.70,438.51 L462.70,439.07 L463.70,439.63 L464.70,440.20 L465.70,440.77 L466.70,441.35 L467.70,441.93 L468.70,442.51 L469.70,443.10 L470.70,443.69 L471.70,444.29 L472.70,444.89 L473.70,445.49 L474.70,446.10 L475.70,446.72 L476.70,447.34 L477.70,447.96 L478.70,448.59 L479.70,449.23 L480.70,449.87 L481.70,450.51 L482.70,451.16 L483.70,451.81 L484.70,452.47 L485.70,453.14 L486.70,453.81 L487.70,454.49 L488.70,455.17 L489.70,455.86 L490.70,456.55 L491.70,457.25 L492.70,457.95 L493.70,458.66 L494.70,459.38 L495.70,460.10 L496.70,460.83 L497.70,461.57 L498.70,462.31 L499.70,463.06 L500.70,463.81 L501.70,464.57 L502.70,465.34 L503.70,466.11 L504.70,466.89 L505.70,467.67 L506.70,468.47 L507.70,469.27 L508.70,470.07 L509.70,470.89 L510.70,471.71 L511.70,472.53 L512.70,473.37 L513.70,474.21 L514.70,475.06 L515.70,475.91 L515.80,476.00" stroke="#0000ff" stroke-dasharray="23.8 9.1"/>
</g>
<rect x="85.8" y="30.0" width="445.99999999999994" height="446.1" fill="none" stroke="#000" stroke-width="2.2"/>
<g font-family="'Liberation Serif', serif" fill="#000" stroke="#fff" stroke-width="0.3" style="opacity:0.999">
<text transform="translate(25.10,35.80) scale(1.0430,1)" font-size="24.5">100</text>
<text transform="translate(39.45,148.00) scale(1.0419,1)" font-size="24.5">10</text>
<text transform="translate(54.65,259.00) scale(1.0000,1)" font-size="24.5">1</text>
<text transform="translate(33.65,370.80) scale(1.0372,1)" font-size="24.5">0.1</text>
<text transform="translate(19.00,482.00) scale(1.0296,1)" font-size="24.5">0.01</text>
<text transform="translate(63.60,511.50) scale(1.0273,1)" font-size="24.5">200</text>
<text transform="translate(152.75,511.50) scale(1.0290,1)" font-size="24.5">300</text>
<text transform="translate(242.05,511.50) scale(1.0225,1)" font-size="24.5">400</text>
<text transform="translate(331.70,511.50) scale(1.0000,1)" font-size="24.5">500</text>
<text transform="translate(421.00,511.50) scale(0.9957,1)" font-size="24.5">600</text>
<text transform="translate(510.65,511.50) scale(1.0150,1)" font-size="24.5">700</text>
<text transform="translate(231.65,274.50) scale(0.9986,1)" font-size="24.5">250</text>
<text transform="translate(275.95,274.50) scale(1.0178,1)" font-size="24.5">GeV</text>
<text transform="translate(227.15,327.60) scale(0.9929,1)" font-size="24.5">400</text>
<text transform="translate(272.35,327.60) scale(1.0156,1)" font-size="24.5">GeV</text>
<text transform="translate(206.75,403.40) scale(0.9945,1)" font-size="24.5">1000</text>
<text transform="translate(264.50,403.40) scale(0.9933,1)" font-size="24.5">GeV</text>
<text transform="translate(294.00,18.00) scale(0.9705,1)" font-size="24.5">1000</text>
<text transform="translate(350.15,18.00) scale(0.9956,1)" font-size="24.5">GeV</text>
<text transform="translate(306.00,190.70) scale(0.9642,1)" font-size="24.5">150</text>
<text transform="translate(351.15,190.70) scale(1.0089,1)" font-size="24.5">GeV</text>
<text transform="translate(214.80,17.90) scale(1.0966,1)" font-style="italic" font-size="25.0">M</text>
<text transform="translate(237.70,25.00) scale(1.1020,1)" font-style="italic" stroke-width="0.1" font-size="17.0">D</text>
<text transform="translate(250.90,27.40) scale(1.2200,1)" stroke-width="0.1" font-size="12.0">3</text>
<text transform="translate(229.95,190.60) scale(1.0921,1)" font-style="italic" font-size="25.0">M</text>
<text transform="translate(250.75,198.20) scale(1.0250,1)" font-style="italic" stroke-width="0.1" font-size="17.3">U</text>
<text transform="translate(263.45,200.40) scale(1.2600,1)" stroke-width="0.1" font-size="12.0">3</text>
<text transform="translate(234.90,538.40) scale(1.0512,1)" font-style="italic" font-size="25.0">v</text>
<text transform="translate(246.90,542.60) scale(1.3375,1)" font-style="italic" stroke-width="0.1" font-size="17.0">S</text>
<text transform="translate(260.70,539.40) scale(0.7034,1)" font-size="27.5">(</text>
<text transform="translate(266.85,538.40) scale(1.2218,1)" font-style="italic" font-size="25.0">T</text>
<text transform="translate(282.10,542.60) scale(1.2286,1)" font-style="italic" stroke-width="0.1" font-size="17.0">C</text>
<text transform="translate(297.25,539.40) scale(0.9429,1)" font-size="27.5">)</text>
<text transform="translate(321.30,538.40) scale(1.0422,1)" font-size="24.5">GeV</text>
<g transform="translate(21,296) rotate(-90)"><text transform="translate(-1.75,0.00) scale(1.2138,1)" font-style="italic" font-size="25.0">Y</text></g>
<g transform="translate(21,296) rotate(-90)"><text transform="translate(13.95,3.10) scale(1.2390,1)" font-style="italic" stroke-width="0.1" font-size="17.6">B</text></g>
<g transform="translate(21,296) rotate(-90)"><text transform="translate(40.40,0.00) scale(1.2138,1)" font-style="italic" font-size="25.0">Y</text></g>
<g transform="translate(21,296) rotate(-90)"><text transform="translate(56.10,5.90) scale(1.2390,1)" font-style="italic" stroke-width="0.1" font-size="17.6">B</text></g>
<g transform="translate(21,296) rotate(-90)"><text transform="translate(59.55,-9.10) scale(1.2328,1)" stroke-width="0.1" font-size="16.4">ob</text></g>
<rect x="269.0" y="8.83" width="16.40" height="1.15" fill="#000" stroke="none"/>
<rect x="269.0" y="13.12" width="16.40" height="1.15" fill="#000" stroke="none"/>
<rect x="280.9" y="181.33" width="16.60" height="1.15" fill="#000" stroke="none"/>
<rect x="280.9" y="185.83" width="16.60" height="1.15" fill="#000" stroke="none"/>
<path d="M239.90,11.50 C241.90,7.60 244.10,9.00 244.90,10.20 S247.90,12.80 249.90,8.90" fill="none" stroke="#000" stroke-width="0.9"/>
<path d="M254.20,184.30 C256.14,180.40 258.27,181.80 259.05,183.00 S261.96,185.60 263.90,181.70" fill="none" stroke="#000" stroke-width="0.9"/>
<path d="M321.3,520.5 H318.3 V543.9 H321.3" fill="none" stroke="#000" stroke-width="1.0"/>
<path d="M370.5,520.5 H373.5 V543.9 H370.5" fill="none" stroke="#000" stroke-width="1.0"/>
<g transform="translate(21,296) rotate(-90)"><line x1="29.9" y1="5.4" x2="38.8" y2="-18.8" stroke="#000" stroke-width="1.0"/></g>
</g>
</svg>
</body></html>
